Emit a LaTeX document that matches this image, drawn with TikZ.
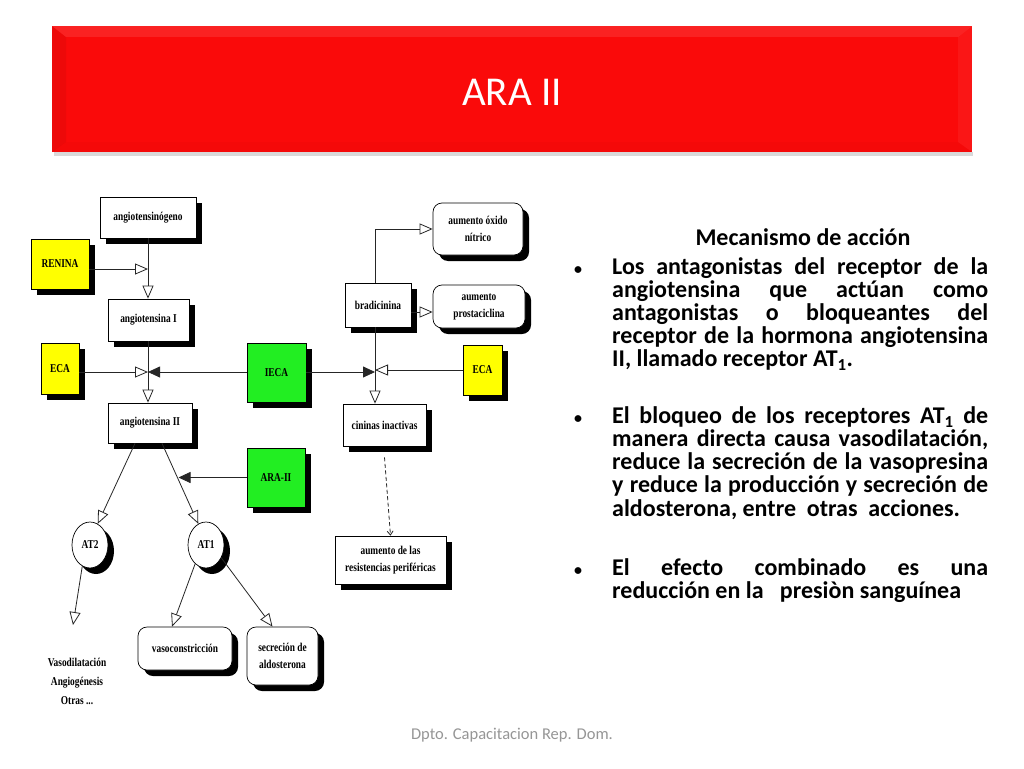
\documentclass[tikz,border=0pt]{standalone}
\usepackage{fontspec}
\setmainfont{Carlito}
\newfontfamily\diagfont[FakeStretch=0.78]{Liberation Serif}
\usetikzlibrary{arrows.meta,shapes.geometric,shadows}
\definecolor{titlered}{RGB}{250,10,10}
\definecolor{boxyellow}{RGB}{255,255,0}
\definecolor{boxgreen}{RGB}{34,238,34}
\definecolor{footgray}{RGB}{150,150,150}
\begin{document}
\begin{tikzpicture}[x=1pt,y=-1pt,
  sh/.style={drop shadow={shadow xshift=6pt,shadow yshift=-6pt,fill=black,opacity=1}},
  box/.style={draw=black,line width=0.7pt,fill=white,sh,inner sep=1pt,align=center,
    font=\diagfont\bfseries\fontsize{12}{17}\selectfont},
  rbox/.style={box,rounded corners=9pt},
  ybox/.style={box,fill=boxyellow},
  gbox/.style={box,fill=boxgreen},
  ell/.style={box,ellipse,minimum width=36pt,minimum height=46pt},
  conn/.style={line width=0.8pt,black!85},
  oarr/.style={conn,-{Triangle[open,length=13pt,width=11pt,fill=white]}},
  farr/.style={conn,-{Triangle[length=12pt,width=11pt]}},
  dasharr/.style={conn,dash pattern=on 4pt off 2.5pt,-{Straight Barb[length=4pt,width=6pt]}},
  bodytext/.style={anchor=base west,inner sep=0pt,font=\bfseries\fontsize{24}{23.2}\selectfont},
  headtext/.style={anchor=base,inner sep=0pt,font=\bfseries\fontsize{24}{23.2}\selectfont},
  bul/.style={anchor=base,inner sep=0pt,font=\bfseries\fontsize{16}{16}\selectfont}
]
\useasboundingbox (0,0) rectangle (1024,768);
\fill[white] (0,0) rectangle (1024,768);

% title bar
\fill[black,opacity=0.15] (54,152) rectangle (973,156);
\fill[titlered] (52,26) rectangle (972,152);
\fill[white,opacity=0.10] (52,26) -- (972,26) -- (958,37) -- (66,37) -- cycle;
\fill[black,opacity=0.05] (52,26) -- (66,37) -- (66,142) -- (52,152) -- cycle;
\fill[white,opacity=0.05] (972,26) -- (958,37) -- (958,142) -- (972,152) -- cycle;
\fill[black,opacity=0.02] (52,152) -- (66,142) -- (958,142) -- (972,152) -- cycle;
\node[text=white,font=\fontsize{41}{48}\selectfont] (title) at (512,92) {ARA II};

% diagram nodes
\node[box,minimum width=96pt,minimum height=41pt] (ang) at (148,217.5) {angiotensinógeno};
\node[ybox,minimum width=58pt,minimum height=50pt] (renina) at (60,264) {RENINA};
\node[box,minimum width=81pt,minimum height=42pt] (angI) at (148.5,320) {angiotensina I};
\node[ybox,minimum width=38pt,minimum height=51pt] (eca1) at (60,368.5) {ECA};
\node[gbox,minimum width=59pt,minimum height=59pt] (ieca) at (276.5,372.5) {IECA};
\node[box,minimum width=84pt,minimum height=40pt] (angII) at (150,423) {angiotensina II};
\node[gbox,minimum width=58pt,minimum height=59pt] (ara) at (276,477.5) {ARA-II};
\node[ell] (at2) at (90,545) {AT2};
\node[ell] (at1) at (206,545) {AT1};
\node[rbox,minimum width=94pt,minimum height=43pt] (vaso) at (185,648.5) {vasoconstricción};
\node[rbox,minimum width=71pt,minimum height=58pt] (secr) at (282.5,656) {secreción de\\aldosterona};
\node[align=center,inner sep=0pt,font=\diagfont\bfseries\fontsize{12}{19}\selectfont] (vtxt) at (77,681) {Vasodilatación\\Angiogénesis\\Otras ...};
\node[rbox,minimum width=90pt,minimum height=52pt] (oxido) at (478,229) {aumento óxido\\nítrico};
\node[box,minimum width=66pt,minimum height=44pt] (brad) at (378,305) {bradicinina};
\node[rbox,minimum width=92pt,minimum height=43pt] (prost) at (479,306.5) {aumento\\prostaciclina};
\node[ybox,minimum width=39pt,minimum height=50pt] (eca2) at (482.5,370) {ECA};
\node[box,minimum width=83pt,minimum height=42pt] (cin) at (384.5,425) {cininas inactivas};
\node[box,minimum width=111pt,minimum height=48pt] (resist) at (390.5,560) {aumento de las\\resistencias periféricas};

% junction coordinates
\coordinate (jR) at (148,269);
\coordinate (jA) at (148,372);
\coordinate (jB) at (375,372);
\coordinate (araTip) at (178.5,479);
\coordinate (vTip) at (73,625);

% connectors
\draw[oarr] (ang.south) -- (ang.south |- angI.north);
\draw[oarr] (renina.east |- jR) -- (jR);
\draw[oarr] (angI.south -| jA) -- (angII.north -| jA);
\draw[oarr] (eca1.east |- jA) -- (jA);
\draw[farr] (ieca.west |- jA) -- (jA);
\draw[farr] (ieca.east |- jB) -- (jB);
\draw[oarr] (eca2.west) -- (eca2.west -| jB);
\draw[oarr] (brad.south -| jB) -- (cin.north -| jB);
\draw[oarr] (brad.north -| jB) |- (oxido.west);
\draw[oarr] ([yshift=-7pt]brad.east) -- ([yshift=-7pt]brad.east -| prost.west);
\draw[dasharr] ([yshift=-11pt]cin.south) -- (resist.north);
\draw[oarr] ([xshift=-15pt]angII.south) -- (at2.70);
\draw[oarr] ([xshift=12pt]angII.south) -- (at1.110);
\draw[farr] (ara.west) -- (ara.west -| araTip);
\draw[oarr] (at2.250) -- (vTip);
\draw[oarr] (at1.240) -- ([xshift=-13pt]vaso.north);
\draw[oarr] (at1.-40) -- ([xshift=-10pt]secr.north);

% text block
\node[headtext] (headline) at (803,245) {Mecanismo de acción};
\node[bul] (b1) at (578,274) {•};
\node[bodytext] (p1a) at (612,274) {\makebox[376pt][s]{Los antagonistas del receptor de la}};
\node[bodytext] (p1b) at (612,297.2) {\makebox[376pt][s]{angiotensina que actúan como}};
\node[bodytext] (p1c) at (612,320.4) {\makebox[376pt][s]{antagonistas o bloqueantes del}};
\node[bodytext] (p1d) at (612,343.6) {\makebox[376pt][s]{receptor de la hormona angiotensina}};
\node[bodytext] (p1e) at (612,366.8) {II, llamado receptor AT\textsubscript{1}.};
\node[bul] (b2) at (578,423.3) {•};
\node[bodytext] (p2a) at (612,423.3) {\makebox[376pt][s]{El bloqueo de los receptores AT\textsubscript{1} de}};
\node[bodytext] (p2b) at (612,446.5) {\makebox[376pt][s]{manera directa causa vasodilatación,}};
\node[bodytext] (p2c) at (612,469.7) {\makebox[376pt][s]{reduce la secreción de la vasopresina}};
\node[bodytext] (p2d) at (612,492.9) {\makebox[376pt][s]{y reduce la producción y secreción de}};
\node[bodytext] (p2e) at (612,516.1) {aldosterona, entre\ \ otras\ \ acciones.};
\node[bul] (b3) at (578,575) {•};
\node[bodytext] (p3a) at (612,575) {\makebox[376pt][s]{El efecto combinado es una}};
\node[bodytext] (p3b) at (612,598.2) {reducción en la\ \ \ presiòn sanguínea};

% footer
\node[text=footgray,font=\fontsize{16.5}{20}\selectfont] (foot) at (512,735) {Dpto. Capacitacion Rep. Dom.};
\end{tikzpicture}
\end{document}
